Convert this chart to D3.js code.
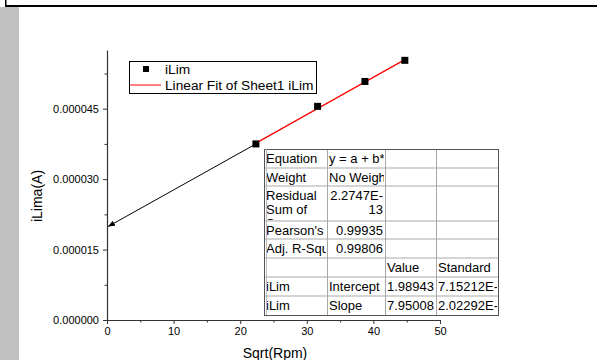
<!DOCTYPE html>
<html>
<head>
<meta charset="utf-8">
<script src="https://cdn.jsdelivr.net/npm/d3@7"></script>
<style>
  body { margin: 0; background: #fff; }
  svg { display: block; font-family: "Liberation Sans", Arial, sans-serif; }
</style>
</head>
<body>
<svg id="svg1" width="597" height="360"></svg>
<script>
// data
const sqrtRpm = [22.36, 31.62, 38.73, 44.72];
const iLim = [0.0000375, 0.0000455, 0.0000508, 0.0000553];
const fitIntercept = 0.0000198943;
const fitSlope = 0.000000795008;
const xTicks = [0, 10, 20, 30, 40, 50];
const yTicks = [0, 0.000015, 0.000030, 0.000045];

// fit results table (cells cut off as in the original)
const tableRows = [
    ["Equation", "y = a + b*", "", ""],
    ["Weight", "No Weigh", "", ""],
    ["Residual\nSum of\nSquares", "2.2747E-\n13", "", ""],
    ["Pearson's", "0.99935", "", ""],
    ["Adj. R-Squ", "0.99806", "", ""],
    ["", "", "Value", "Standard"],
    ["iLim", "Intercept", "1.98943", "7.15212E-"],
    ["iLim", "Slope", "7.95008", "2.02292E-"]
];

const svg = d3.select('#svg1');
const margin = {left: 107, top: 50, right: 157, bottom: 40};
const innerW = 597 - margin.left - margin.right;
const innerH = 360 - margin.top - margin.bottom;

// window chrome
svg.append('rect').attr('x', 0).attr('y', 7).attr('width', 19).attr('height', 353).attr('fill', '#c0c0c0');
svg.append('rect').attr('x', 5).attr('y', 5).attr('width', 592).attr('height', 2).attr('fill', '#000');
svg.append('rect').attr('x', 5).attr('y', 0).attr('width', 1.5).attr('height', 6).attr('fill', '#000');

const x = d3.scaleLinear().domain([0, 50]).range([0, innerW]);
const y = d3.scaleLinear().domain([0, 0.0000575]).range([innerH, 0]);

const g = svg.append('g').attr('transform', `translate(${margin.left},${margin.top})`);

// minor ticks
g.append('g').attr('transform', `translate(0,${innerH})`)
    .call(d3.axisBottom(x).tickValues([5, 15, 25, 35, 45]).tickSize(2.5).tickFormat(''))
    .call(a => a.select('.domain').remove())
    .selectAll('line').attr('stroke', '#333');
g.append('g')
    .call(d3.axisLeft(y).tickValues([0.0000075, 0.0000225, 0.0000375, 0.0000525]).tickSize(2.5).tickFormat(''))
    .call(a => a.select('.domain').remove())
    .selectAll('line').attr('stroke', '#333');

const xAxis = g.append('g').attr('transform', `translate(0,${innerH})`)
    .call(d3.axisBottom(x).tickValues(xTicks).tickSize(4).tickSizeOuter(0).tickPadding(3));
const yAxis = g.append('g')
    .call(d3.axisLeft(y).tickValues(yTicks).tickSize(4).tickSizeOuter(0).tickPadding(4).tickFormat(d => d.toFixed(6)));
[xAxis, yAxis].forEach(a => {
    a.selectAll('.domain').attr('stroke', '#333').attr('stroke-width', 1.2);
    a.selectAll('line').attr('stroke', '#333');
    a.selectAll('text').attr('font-size', 11).attr('fill', '#000').attr('font-family', '"Liberation Sans", Arial, sans-serif');
});

svg.append('text').attr('x', 275).attr('y', 358).attr('text-anchor', 'middle')
    .attr('font-size', 14).text('Sqrt(Rpm)');
svg.append('text').attr('transform', 'translate(42,196) rotate(-90)').attr('text-anchor', 'middle')
    .attr('font-size', 14).text('iLima(A)');

// arrow from first point back to the intercept
svg.append('defs').append('marker').attr('id', 'arr')
    .attr('viewBox', '0 0 10 10').attr('refX', 10).attr('refY', 5)
    .attr('markerWidth', 7).attr('markerHeight', 7).attr('orient', 'auto')
    .append('path').attr('d', 'M0,1 L10,5 L0,9 Z').attr('fill', '#000');
g.append('line')
    .attr('x1', x(sqrtRpm[0])).attr('y1', y(iLim[0]))
    .attr('x2', x(0) + 1).attr('y2', y(fitIntercept))
    .attr('stroke', '#000').attr('stroke-width', 1).attr('marker-end', 'url(#arr)');

// fit line
const x0 = d3.min(sqrtRpm), x1 = d3.max(sqrtRpm);
g.append('line')
    .attr('x1', x(x0)).attr('y1', y(fitIntercept + fitSlope * x0))
    .attr('x2', x(x1)).attr('y2', y(fitIntercept + fitSlope * x1))
    .attr('stroke', '#ff0000').attr('stroke-width', 1.2);

g.selectAll('rect.pt')
    .data(sqrtRpm.map((d, i) => [d, iLim[i]]))
    .join('rect').attr('class', 'pt')
    .attr('x', d => x(d[0]) - 3.5).attr('y', d => y(d[1]) - 3.5)
    .attr('width', 7).attr('height', 7).attr('fill', '#000');

// legend
const lg = svg.append('g');
lg.append('rect').attr('x', 129.5).attr('y', 61.5).attr('width', 187).attr('height', 32)
    .attr('fill', '#fff').attr('stroke', '#000').attr('stroke-width', 1);
lg.append('rect').attr('x', 143).attr('y', 66).attr('width', 6).attr('height', 6).attr('fill', '#000');
lg.append('line').attr('x1', 130).attr('x2', 161).attr('y1', 85).attr('y2', 85).attr('stroke', '#ff0000');
lg.append('text').attr('x', 165).attr('y', 74).attr('font-size', 13.7).text('iLim');
lg.append('text').attr('x', 165).attr('y', 90).attr('font-size', 13.7).text('Linear Fit of Sheet1 iLim');

// table
const colX = [264, 327, 385, 436, 498];
const rowY = [149, 168, 186, 221, 239, 258, 277, 296, 315];
const tg = svg.append('g');
tg.append('rect').attr('x', colX[0]).attr('y', rowY[0])
    .attr('width', colX[4] - colX[0]).attr('height', rowY[8] - rowY[0]).attr('fill', '#fff');
const defs = svg.select('defs');
tableRows.forEach((row, ri) => {
    row.forEach((cell, ci) => {
        if (!cell) return;
        const id = `c${ri}_${ci}`;
        defs.append('clipPath').attr('id', id).append('rect')
            .attr('x', colX[ci] + 1).attr('y', rowY[ri] + 1)
            .attr('width', colX[ci + 1] - colX[ci] - 2).attr('height', rowY[ri + 1] - rowY[ri] - 2);
        const numeric = /^[0-9.]/.test(cell) && !(ri >= 6 && ci === 3);
        const lines = cell.split('\n');
        const t = tg.append('text').attr('clip-path', `url(#${id})`).attr('font-size', 13)
            .attr('text-anchor', numeric ? 'end' : 'start');
        lines.forEach((ln, li) => {
            t.append('tspan')
                .attr('x', numeric ? colX[ci + 1] - 2 : colX[ci] + 2)
                .attr('y', rowY[ri] + 14 + li * 14)
                .text(ln);
        });
    });
});
rowY.slice(1, -1).forEach(yy => {
    tg.append('line').attr('x1', colX[0]).attr('x2', colX[4]).attr('y1', yy).attr('y2', yy)
        .attr('stroke', '#d4d4d4').attr('stroke-width', 2);
});
colX.slice(1, -1).forEach(xx => {
    tg.append('line').attr('x1', xx + 0.5).attr('x2', xx + 0.5).attr('y1', rowY[0]).attr('y2', rowY[8])
        .attr('stroke', '#a8a8a8').attr('stroke-width', 1);
});
tg.append('rect').attr('x', colX[0] + 0.5).attr('y', rowY[0] + 0.5)
    .attr('width', colX[4] - colX[0]).attr('height', rowY[8] - rowY[0])
    .attr('fill', 'none').attr('stroke', '#555').attr('stroke-width', 1);
tg.append('line').attr('x1', colX[0] + 2.5).attr('x2', colX[0] + 2.5).attr('y1', rowY[0]).attr('y2', rowY[8])
    .attr('stroke', '#bbb');
</script>
</body>
</html>
